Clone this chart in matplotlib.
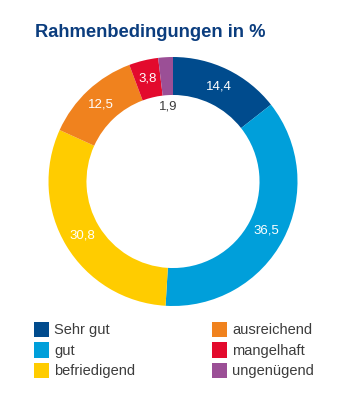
import matplotlib.pyplot as plt
from matplotlib.patches import Rectangle
import numpy as np

# Data
categories = ['Sehr gut', 'gut', 'befriedigend', 'ausreichend', 'mangelhaft', 'ungenügend']
values = [14.4, 36.5, 30.8, 12.5, 3.8, 1.9]
labels = ['14,4', '36,5', '30,8', '12,5', '3,8', '1,9']
colors = ['#004b8d', '#009fda', '#ffcc00', '#f0821e', '#e30a2d', '#9b4f96']

font = ['Liberation Sans', 'DejaVu Sans']
txt_col = '#3c3c3c'

fig = plt.figure(figsize=(3.42, 4.08), dpi=100)
fig.patch.set_facecolor('white')

# donut axes, center ~ (173, 181.5) px, outer radius ~124.5 px
W, H = 342, 408
cx, cy, r = 173, 181.5, 124.5
ax = fig.add_axes([(cx - r) / W, (H - cy - r) / H, 2 * r / W, 2 * r / H])

ring = 0.305
wedges, _ = ax.pie(values, colors=colors, startangle=90, counterclock=False,
                   radius=1, wedgeprops=dict(width=ring, edgecolor='none'))
ax.set_aspect('equal')
ax.set_xlim(-1, 1)
ax.set_ylim(-1, 1)

for w, lab, v in zip(wedges, labels, values):
    ang = np.deg2rad((w.theta1 + w.theta2) / 2)
    if v < 3:
        rr, col = 0.6, txt_col
    else:
        rr, col = 1 - ring / 2, 'white'
    ax.text(rr * np.cos(ang), rr * np.sin(ang), lab, ha='center', va='center',
            color=col, fontsize=9.5, family=font)

# title
fig.text(35 / W, 1 - 37 / H, 'Rahmenbedingungen in %', color='#0b3d7e',
         fontsize=13.2, fontweight='bold', va='baseline', ha='left',
         family=font)

# legend (two columns, three rows)
sq = 15.5
for i, (cat, c) in enumerate(zip(categories, colors)):
    col, row = divmod(i, 3)
    x0 = 33.5 + col * 178
    yc = 329.5 + row * 20.5
    fig.add_artist(Rectangle((x0 / W, 1 - (yc + sq / 2) / H), sq / W, sq / H,
                             transform=fig.transFigure, facecolor=c,
                             edgecolor='none'))
    fig.text((x0 + 20.5) / W, 1 - (yc + 0.5) / H, cat, color=txt_col,
             fontsize=10.5, va='center', ha='left', family=font)

plt.savefig('out.png', dpi=100)
